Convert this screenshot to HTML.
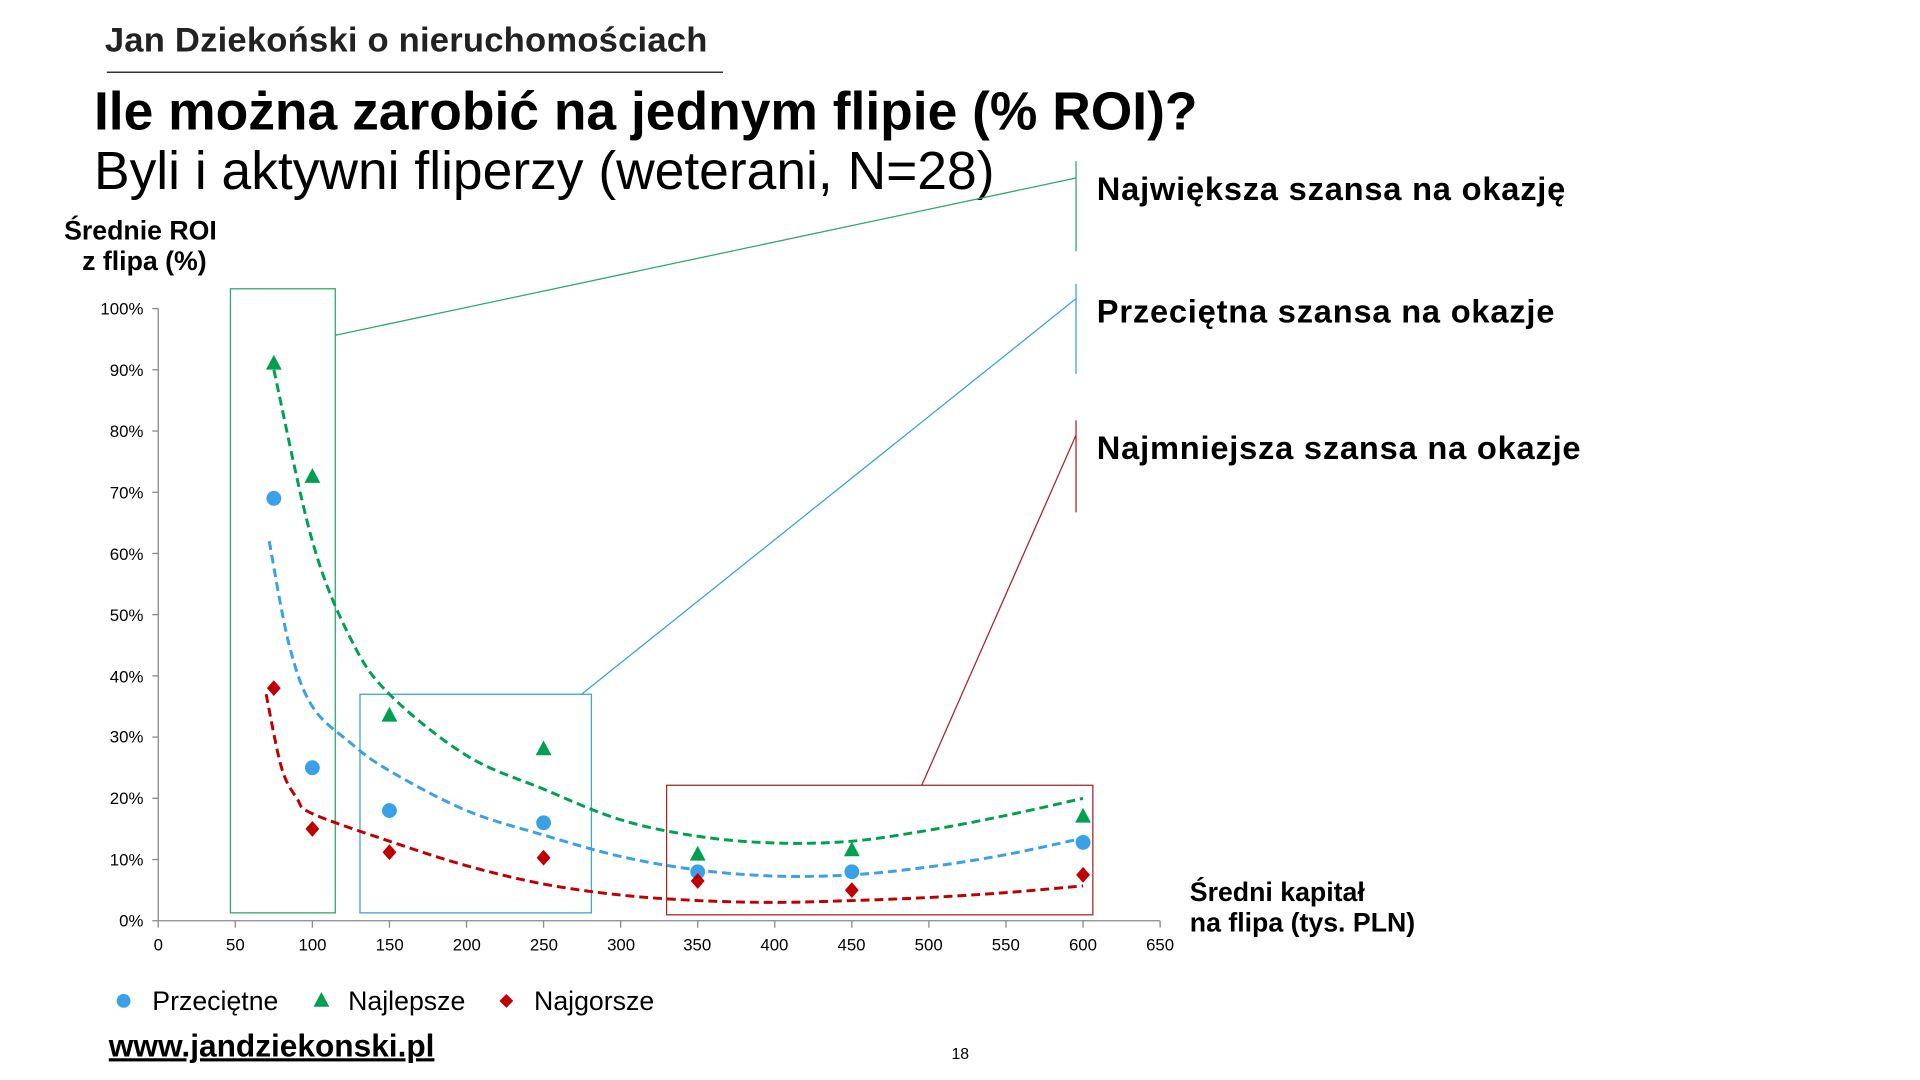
<!DOCTYPE html>
<html><head><meta charset="utf-8"><style>
body{margin:0;width:1920px;height:1080px;background:#fff;overflow:hidden;font-family:"Liberation Sans",Arial,sans-serif}
svg{position:absolute;left:0;top:0}
</style></head><body>
<svg width="1920" height="1080" xmlns="http://www.w3.org/2000/svg" font-family="Liberation Sans, Arial, sans-serif">
<g transform="scale(0.989)">
<text x="106" y="52" font-size="35" font-weight="bold" letter-spacing="0.2" fill="#222">Jan Dziekoński o nieruchomościach</text>
<line x1="108" y1="73" x2="731" y2="73" stroke="#333" stroke-width="1.5"/>
<text x="95" y="131" font-size="54" font-weight="bold" fill="#000">Ile można zarobić na jednym flipie (% ROI)?</text>
<text x="95" y="191" font-size="54" fill="#000">Byli i aktywni fliperzy (weterani, N=28)</text>
<text x="142" y="242" font-size="27" font-weight="bold" text-anchor="middle">Średnie ROI</text>
<text x="146" y="273" font-size="27" font-weight="bold" text-anchor="middle">z flipa (%)</text>
<g stroke="#888" stroke-width="1.3">
<line x1="160" y1="312" x2="160" y2="931"/><line x1="160" y1="931" x2="1173" y2="931"/>
</g>
<g id="ticks" stroke="#888" stroke-width="1.3"></g>
<g font-size="17" text-anchor="end" fill="#000">
<text x="145" y="318">100%</text><text x="145" y="380">90%</text><text x="145" y="442">80%</text><text x="145" y="504">70%</text><text x="145" y="566">60%</text><text x="145" y="628">50%</text><text x="145" y="690">40%</text><text x="145" y="751">30%</text><text x="145" y="813">20%</text><text x="145" y="875">10%</text><text x="145" y="937">0%</text>
</g>
<g font-size="17" text-anchor="middle" fill="#000">
<text x="160" y="961">0</text><text x="238" y="961">50</text><text x="316" y="961">100</text><text x="394" y="961">150</text><text x="472" y="961">200</text><text x="550" y="961">250</text><text x="628" y="961">300</text><text x="705" y="961">350</text><text x="783" y="961">400</text><text x="861" y="961">450</text><text x="939" y="961">500</text><text x="1017" y="961">550</text><text x="1095" y="961">600</text><text x="1173" y="961">650</text>
</g>
<text x="1203" y="911" font-size="27" font-weight="bold">Średni kapitał</text>
<text x="1203" y="942" font-size="27" font-weight="bold">na flipa (tys. PLN)</text>
<g fill="none" stroke-width="1.3">
<rect x="233" y="292" width="106" height="631" stroke="#2EA86B"/>
<line x1="339" y1="339" x2="1088" y2="180" stroke="#2EA86B"/>
<line x1="1088" y1="163" x2="1088" y2="254" stroke="#2EA86B"/>
<rect x="364" y="702" width="234" height="221" stroke="#3BA6D0"/>
<line x1="588" y1="702" x2="1088" y2="302" stroke="#3BA6D0"/>
<line x1="1088" y1="287" x2="1088" y2="378" stroke="#3BA6D0"/>
<rect x="674" y="794" width="431" height="131" stroke="#A52A2A"/>
<line x1="932" y1="794" x2="1088" y2="440" stroke="#A52A2A"/>
<line x1="1088" y1="425" x2="1088" y2="518" stroke="#A52A2A"/>
</g>
<g font-size="33" font-weight="bold" letter-spacing="0.8">
<text x="1109" y="202">Największa szansa na okazję</text>
<text x="1109" y="326">Przeciętna szansa na okazje</text>
<text x="1109" y="464">Najmniejsza szansa na okazje</text>
</g>
<g id="plot"></g>
<circle cx="125" cy="1012" r="7" fill="#3AA0E8"/>
<text x="154" y="1021" font-size="27">Przeciętne</text>
<polygon points="325,1003 333,1018 317,1018" fill="#00A050"/>
<text x="352" y="1021" font-size="27">Najlepsze</text>
<polygon points="512,1005 519,1012 512,1019 505,1012" fill="#C00000"/>
<text x="540" y="1021" font-size="27">Najgorsze</text>
<text x="110" y="1068" font-size="32" font-weight="bold" text-decoration="underline">www.jandziekonski.pl</text>
<text x="971" y="1071" font-size="16" text-anchor="middle">18</text>
</g>
</svg>
<script>
const X=v=>160+v*1.5585,Y=p=>931-p*6.19,NS="http://www.w3.org/2000/svg";
const g=document.getElementById('plot'),t=document.getElementById('ticks');
for(let k=0;k<=10;k++){let l=document.createElementNS(NS,'line');let y=312+k*61.9;l.setAttribute('x1',154);l.setAttribute('x2',160);l.setAttribute('y1',y);l.setAttribute('y2',y);t.appendChild(l);}
for(let k=0;k<=13;k++){let l=document.createElementNS(NS,'line');let x=X(k*50);l.setAttribute('x1',x);l.setAttribute('x2',x);l.setAttribute('y1',931);l.setAttribute('y2',938);t.appendChild(l);}
function curve(pts,col){let P=pts.map(p=>[X(p[0]),Y(p[1])]);let d='M'+P[0].join(',');
for(let i=0;i<P.length-1;i++){let p0=P[Math.max(0,i-1)],p1=P[i],p2=P[i+1],p3=P[Math.min(P.length-1,i+2)];
d+=` C${p1[0]+(p2[0]-p0[0])/6},${p1[1]+(p2[1]-p0[1])/6} ${p2[0]-(p3[0]-p1[0])/6},${p2[1]-(p3[1]-p1[1])/6} ${p2[0]},${p2[1]}`;}
let e=document.createElementNS(NS,'path');e.setAttribute('d',d);e.setAttribute('fill','none');e.setAttribute('stroke',col);e.setAttribute('stroke-width','3');e.setAttribute('stroke-dasharray','9,5');g.appendChild(e);}
curve([[75,90],[100,62],[125,46],[150,37],[200,27],[250,21.5],[300,16.5],[350,13.8],[400,12.7],[450,13],[500,14.8],[550,17.2],[600,20]],'#00A050');
curve([[72,62],[85,45],[100,35],[125,29],[150,24.5],[200,18],[250,14],[300,10.5],[350,8.3],[400,7.3],[450,7.5],[500,8.8],[550,10.8],[600,13.5]],'#3AA0E8');
curve([[70,37],[80,25],[90,20],[100,17.5],[150,13],[200,9],[250,6],[300,4.2],[350,3.3],[400,3],[450,3.3],[500,3.8],[550,4.6],[600,5.7]],'#C00000');
function add(tag,attrs){let e=document.createElementNS(NS,tag);for(let k in attrs)e.setAttribute(k,attrs[k]);g.appendChild(e);}
[[75,69],[100,25],[150,18],[250,16],[350,8],[450,8],[600,12.8]].forEach(p=>add('circle',{cx:X(p[0]),cy:Y(p[1]),r:7.5,fill:'#3AA0E8'}));
[[75,91],[100,72.5],[150,33.5],[250,28],[350,10.8],[450,11.5],[600,17]].forEach(p=>{let x=X(p[0]),y=Y(p[1]);add('polygon',{points:`${x},${y-9} ${x+8},${y+6} ${x-8},${y+6}`,fill:'#00A050'});});
[[75,38],[100,15],[150,11.2],[250,10.3],[350,6.5],[450,5],[600,7.5]].forEach(p=>{let x=X(p[0]),y=Y(p[1]);add('polygon',{points:`${x},${y-8} ${x+7},${y} ${x},${y+8} ${x-7},${y}`,fill:'#C00000'});});
</script>
</body></html>
